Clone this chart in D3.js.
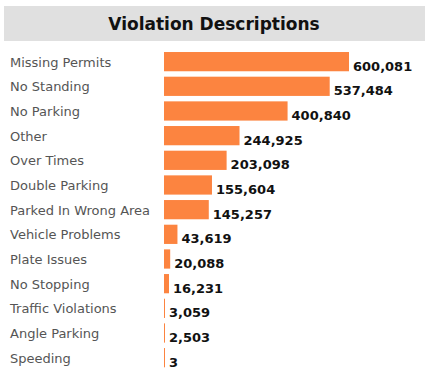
<!DOCTYPE html>
<html>
<head>
<meta charset="utf-8">
<script src="https://cdn.jsdelivr.net/npm/d3@7"></script>
<style>
    body { margin: 0; background: #fff; font-family: "DejaVu Sans", Verdana, sans-serif; }
    .cat-label { fill: #555; font-size: 13px; }
    .val-label { fill: #111; font-size: 13px; font-weight: bold; }
    .title { fill: #111; font-size: 17px; font-weight: bold; }
</style>
</head>
<body>
<div id="chart"></div>
<script>
const categories = ['Missing Permits', 'No Standing', 'No Parking', 'Other', 'Over Times',
    'Double Parking', 'Parked In Wrong Area', 'Vehicle Problems', 'Plate Issues', 'No Stopping',
    'Traffic Violations', 'Angle Parking', 'Speeding'];
const counts = [600081, 537484, 400840, 244925, 203098, 155604, 145257, 43619, 20088, 16231, 3059, 2503, 3];
const title = 'Violation Descriptions';

const width = 430, height = 375;
const margin = {top: 50, left: 164, right: 80, bottom: 1};

const data = categories.map((c, i) => ({name: c, value: counts[i]}));

const svg = d3.select('#chart').append('svg')
    .attr('width', width)
    .attr('height', height);

// title band
svg.append('rect')
    .attr('x', 4)
    .attr('y', 6)
    .attr('width', 421)
    .attr('height', 35)
    .attr('fill', '#e0e0e0');

svg.append('text')
    .attr('class', 'title')
    .attr('x', 214)
    .attr('y', 30)
    .attr('text-anchor', 'middle')
    .text(title);

const xScale = d3.scaleLinear()
    .domain([0, d3.max(counts)])
    .range([0, 185]);

const yScale = d3.scaleBand()
    .domain(categories)
    .range([49.3, 49.3 + 24.67 * categories.length])
    .paddingInner(0.22)
    .paddingOuter(0.11);

const chart = svg.append('g');

chart.selectAll('rect.bar')
    .data(data)
    .join('rect')
    .attr('class', 'bar')
    .attr('x', margin.left)
    .attr('y', d => yScale(d.name))
    .attr('width', d => Math.max(1, xScale(d.value)))
    .attr('height', yScale.bandwidth())
    .attr('fill', '#fc8440');

chart.selectAll('text.cat-label')
    .data(data)
    .join('text')
    .attr('class', 'cat-label')
    .attr('x', 10)
    .attr('y', d => yScale(d.name) + yScale.bandwidth() / 2 + 5)
    .text(d => d.name);

chart.selectAll('text.val-label')
    .data(data)
    .join('text')
    .attr('class', 'val-label')
    .attr('x', d => margin.left + Math.max(1, xScale(d.value)) + 4)
    .attr('y', d => yScale(d.name) + yScale.bandwidth() / 2 + 9)
    .text(d => d3.format(',')(d.value));
</script>
</body>
</html>
